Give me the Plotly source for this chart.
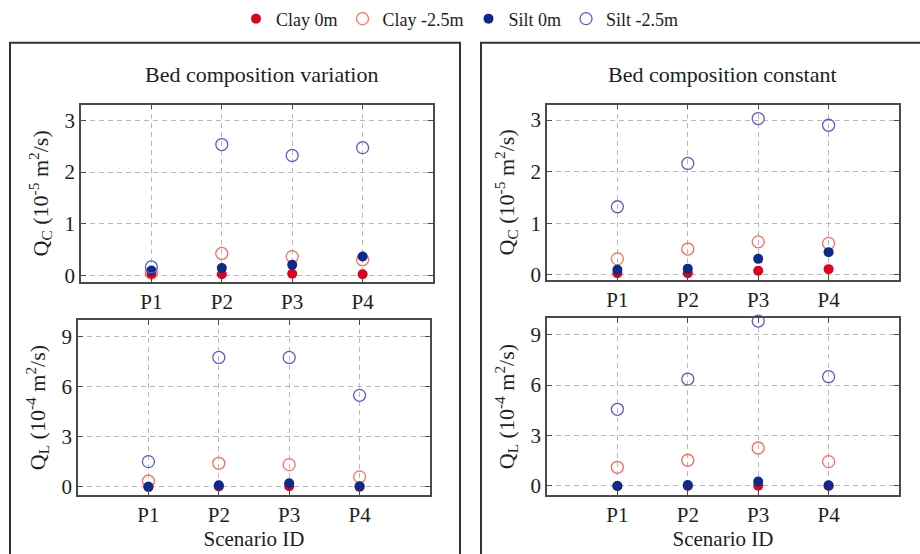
import plotly.graph_objects as go

scenarios = ["P1", "P2", "P3", "P4"]
xpos = [1, 2, 3, 4]

# Bed composition variation
qc_var_clay0 = [0.03, 0.03, 0.04, 0.03]
qc_var_clay25 = [0.05, 0.43, 0.37, 0.31]
qc_var_silt0 = [0.10, 0.15, 0.21, 0.37]
qc_var_silt25 = [0.17, 2.53, 2.32, 2.47]

ql_var_clay0 = [0.0, 0.02, 0.04, 0.0]
ql_var_clay25 = [0.34, 1.41, 1.33, 0.60]
ql_var_silt0 = [0.0, 0.10, 0.22, 0.04]
ql_var_silt25 = [1.51, 7.75, 7.75, 5.48]

# Bed composition constant
qc_con_clay0 = [0.03, 0.03, 0.08, 0.11]
qc_con_clay25 = [0.31, 0.50, 0.64, 0.61]
qc_con_silt0 = [0.10, 0.12, 0.31, 0.44]
qc_con_silt25 = [1.32, 2.16, 3.03, 2.90]

ql_con_clay0 = [0.0, 0.0, 0.02, 0.0]
ql_con_clay25 = [1.11, 1.53, 2.26, 1.45]
ql_con_silt0 = [0.0, 0.06, 0.26, 0.04]
ql_con_silt25 = [4.56, 6.36, 9.81, 6.50]

series_names = ["Clay 0m", "Clay -2.5m", "Silt 0m", "Silt -2.5m"]
FONT = "Liberation Serif, Times New Roman, serif"

styles = [
    dict(symbol="circle", size=10, color="#e0001b", line=dict(width=0)),
    dict(symbol="circle-open", size=12, color="#ff6a5c", line=dict(width=1.3)),
    dict(symbol="circle", size=10, color="#0c2a8c", line=dict(width=0)),
    dict(symbol="circle-open", size=12, color="#5a5ccc", line=dict(width=1.3)),
]

panels = [
    ("x", "y", [qc_var_clay0, qc_var_clay25, qc_var_silt0, qc_var_silt25]),
    ("x2", "y2", [ql_var_clay0, ql_var_clay25, ql_var_silt0, ql_var_silt25]),
    ("x3", "y3", [qc_con_clay0, qc_con_clay25, qc_con_silt0, qc_con_silt25]),
    ("x4", "y4", [ql_con_clay0, ql_con_clay25, ql_con_silt0, ql_con_silt25]),
]

fig = go.Figure()
for pi, (xa, ya, data) in enumerate(panels):
    for si, vals in enumerate(data):
        fig.add_trace(go.Scatter(
            x=xpos, y=vals, mode="markers", xaxis=xa, yaxis=ya,
            name=series_names[si], legendgroup=series_names[si],
            showlegend=(pi == 0), marker=styles[si], cliponaxis=False,
        ))

W, H = 920, 554
def px_x(a, b):
    return [a / W, b / W]
def px_y(top, bot):
    return [1 - bot / H, 1 - top / H]

TXT = "#1e1e1e"
GRID_DASH = "5px,4px"
common_x = dict(
    range=[0, 5], tickvals=xpos, ticktext=scenarios, showgrid=True,
    gridcolor="#b8b8b8", griddash=GRID_DASH, gridwidth=1, zeroline=False,
    showline=True, linecolor="#4a4a4a", linewidth=1.5, mirror="ticks",
    ticks="inside", ticklen=5, tickcolor="#4a4a4a",
    tickfont=dict(family=FONT, size=21, color=TXT), automargin=False,
)
common_y = dict(
    showgrid=True, gridcolor="#b8b8b8", griddash=GRID_DASH, gridwidth=1,
    zeroline=False, showline=True, linecolor="#4a4a4a", linewidth=1.5,
    mirror="ticks", ticks="inside", ticklen=5, tickcolor="#4a4a4a",
    tickfont=dict(family=FONT, size=21, color=TXT), automargin=False,
)
qc_title = "Q<sub>C</sub> (10<sup>-5</sup> m<sup>2</sup>/s)"
ql_title = "Q<sub>L</sub> (10<sup>-4</sup> m<sup>2</sup>/s)"
ytf = dict(family=FONT, size=22, color=TXT)
xtitle = dict(text="Scenario ID", font=dict(family=FONT, size=21, color=TXT), standoff=4)

fig.update_layout(
    width=W, height=H, margin=dict(l=0, r=0, t=0, b=0),
    plot_bgcolor="white", paper_bgcolor="white",
    font=dict(family=FONT, color=TXT),
    xaxis=dict(common_x, domain=px_x(81, 433), anchor="y"),
    yaxis=dict(common_y, domain=px_y(103, 281), anchor="x", range=[-0.12, 3.3],
               tickvals=[0, 1, 2, 3], title=dict(text=qc_title, font=ytf, standoff=10)),
    xaxis2=dict(common_x, domain=px_x(78, 430), anchor="y2", title=xtitle),
    yaxis2=dict(common_y, domain=px_y(319, 495), anchor="x2", range=[-0.5, 10],
                tickvals=[0, 3, 6, 9], title=dict(text=ql_title, font=ytf, standoff=10)),
    xaxis3=dict(common_x, domain=px_x(547, 899), anchor="y3"),
    yaxis3=dict(common_y, domain=px_y(103, 279), anchor="x3", range=[-0.1, 3.3],
                tickvals=[0, 1, 2, 3], title=dict(text=qc_title, font=ytf, standoff=10)),
    xaxis4=dict(common_x, domain=px_x(547, 899), anchor="y4", title=xtitle),
    yaxis4=dict(common_y, domain=px_y(317, 495), anchor="x4", range=[-0.55, 10],
                tickvals=[0, 3, 6, 9], title=dict(text=ql_title, font=ytf, standoff=10)),
    legend=dict(orientation="h", x=0.5, xanchor="center", y=1 - 17 / H, yanchor="middle",
                font=dict(family=FONT, size=18, color=TXT), bgcolor="rgba(0,0,0,0)",
                itemsizing="trace"),
    showlegend=True,
)

# outer panel boxes
fig.add_shape(type="rect", xref="paper", yref="paper",
              x0=10 / W, x1=460 / W, y0=-0.05, y1=1 - 41 / H,
              line=dict(color="#333", width=2), layer="below")
fig.add_shape(type="rect", xref="paper", yref="paper",
              x0=481 / W, x1=1.02, y0=-0.05, y1=1 - 41 / H,
              line=dict(color="#333", width=2), layer="below")

fig.add_annotation(text="Bed composition variation", xref="paper", yref="paper",
                   x=261 / W, y=1 - 73 / H, showarrow=False, xanchor="center", yanchor="middle",
                   font=dict(family=FONT, size=22, color=TXT))
fig.add_annotation(text="Bed composition constant", xref="paper", yref="paper",
                   x=722 / W, y=1 - 73 / H, showarrow=False, xanchor="center", yanchor="middle",
                   font=dict(family=FONT, size=22, color=TXT))

fig.write_html("out.html")
